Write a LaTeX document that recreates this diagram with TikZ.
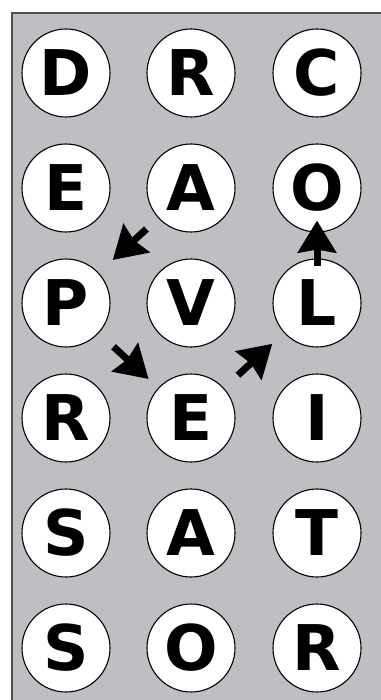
\documentclass[tikz,border=0pt]{standalone}
\usepackage{fontspec}
\setmainfont{DejaVu Sans}
\usetikzlibrary{arrows.meta}
\definecolor{BoardGray}{HTML}{BEBFC3}
\definecolor{BoardEdge}{HTML}{505050}
\tikzset{
  tile/.style={circle, draw=black, line width=1.1pt, fill=white, minimum size=88pt,
    inner sep=0pt, font=\bfseries\fontsize{63}{63}\selectfont},
  move/.style={line width=7pt, -{Stealth[length=32pt,width=38pt,inset=3pt]}}
}

\begin{document}
\begin{tikzpicture}[x=1pt, y=-1pt]
  \useasboundingbox (0,0) rectangle (380,700);
  \fill[white] (0,0) rectangle (380,700);
  % board
  \filldraw[fill=BoardGray, draw=BoardEdge, line width=1.5pt] (12,13) rectangle (390,710);
  % letter tiles, one row per line
  \foreach \a/\b/\c [count=\r] in {D/R/C, E/A/O, P/V/L, R/E/I, S/A/T, S/O/R}{%
    \node[tile] (c1r\r) at (66,{73+115*(\r-1)}) {\a};
    \node[tile] (c2r\r) at (191,{73+115*(\r-1)}) {\b};
    \node[tile] (c3r\r) at (317,{73+115*(\r-1)}) {\c};}
  % path through the word
  \draw[move, shorten <=16pt, shorten >=19pt] (c2r2) -- (c1r3);
  \draw[move, shorten <=20pt, shorten >=13pt] (c1r3) -- (c2r4);
  \draw[move, shorten <=19pt, shorten >=16pt] (c2r4) -- (c3r3);
  \draw[move, shorten <=-8pt, shorten >=-12pt] (c3r3) -- (c3r2);
\end{tikzpicture}
\end{document}
